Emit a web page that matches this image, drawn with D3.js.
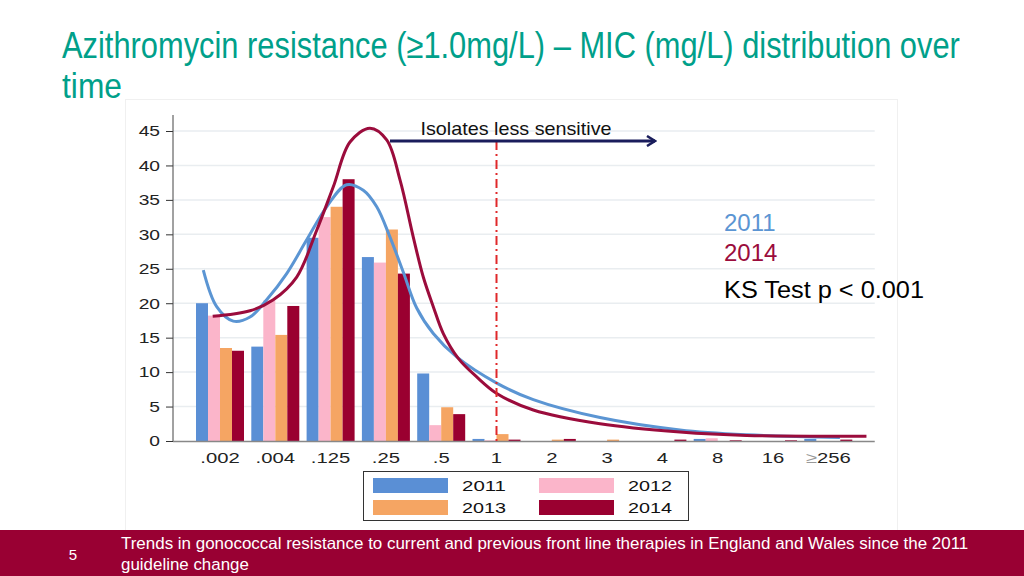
<!DOCTYPE html>
<html><head><meta charset="utf-8">
<script src="https://cdn.jsdelivr.net/npm/d3@7"></script>
<style>
html,body{margin:0;padding:0;background:#fff;}
svg{display:block;font-family:"Liberation Sans",Arial,sans-serif;}
</style></head>
<body><svg id="c" width="1024" height="576"></svg>
<script>
const categories = [".002",".004",".125",".25",".5","1","2","3","4","8","16","256"];
const years = ["2011","2012","2013","2014"];
const v2011 = [20.0,13.7,29.5,26.7,9.8,0.3,0,0,0,0.3,0,0.3];
const v2012 = [18.2,20.4,32.5,25.9,2.3,0.1,0,0,0,0.4,0,0];
const v2013 = [13.5,15.4,34.0,30.7,4.9,1.0,0.2,0.2,0,0,0,0];
const v2014 = [13.1,19.6,38.0,24.3,3.9,0.2,0.3,0,0.2,0.1,0.1,0.2];
const yTicks = [0,5,10,15,20,25,30,35,40,45];
// kernel density curves: [category position, value]
const curve2011 = [[-0.302,24.8],[-0.060,19.5],[0.240,17.4],[0.542,18.0],[0.844,20.5],[1.206,24.3],[1.568,29.2],[1.929,34.0],[2.291,37.2],[2.591,36.4],[2.834,34.0],[3.074,29.6],[3.315,24.5],[3.557,19.3],[3.857,15.6],[4.280,12.2],[5.004,8.4],[5.665,6.0],[6.872,3.4],[8.318,1.6],[9.524,0.9],[11.21,0.5]];
const curve2014 = [[-0.132,18.1],[0.542,18.9],[0.964,20.5],[1.387,23.8],[1.749,30.6],[2.049,36.9],[2.351,43.4],[2.712,45.4],[3.014,43.7],[3.255,37.9],[3.495,29.6],[3.676,23.8],[3.857,19.5],[4.038,15.6],[4.309,12.0],[4.642,9.3],[5.004,6.9],[5.665,4.5],[6.872,2.5],[8.318,1.3],[9.524,0.8],[11.69,0.7]];
const colors = ["#5a8fd5","#fbb5ca","#f5a563","#9a0030"];
const lineColors = {"2011":"#5b95d3","2014":"#9b0c3c"};

const svg = d3.select("#c");
const series = [v2011,v2012,v2013,v2014];
function stretch(sel,f){ sel.each(function(){ const w=this.getComputedTextLength(); d3.select(this).attr("textLength",w*f).attr("lengthAdjust","spacingAndGlyphs"); }); }
function fitText(parent,txt,x0,y0,width,size,color,family){
  const t = parent.append("text").attr("x",0).attr("y",0).attr("font-size",size).attr("fill",color).text(txt);
  if(family) t.attr("font-family",family);
  const w = t.node().getComputedTextLength();
  t.attr("transform",`translate(${x0},${y0}) scale(${width/w},1)`);
  return t;
}

// panel
svg.append("rect").attr("x",125.5).attr("y",99.5).attr("width",772).attr("height",440).attr("fill","#fff").attr("stroke","#f0f0f0");

// title
fitText(svg,"Azithromycin resistance (≥1.0mg/L) – MIC (mg/L) distribution over",62,58,898,36,"#00a08a");
fitText(svg,"time",62,98,60,36,"#00a08a");

const x = d3.scaleLinear().domain([0,11]).range([220,828.3]);
const y = d3.scaleLinear().domain([0,45]).range([441,131]);
const sub = d3.scaleBand().domain(years).range([-24,24]).padding(0);

// gridlines
svg.append("g").selectAll("line").data(yTicks.filter(d=>d>0)).join("line")
  .attr("x1",173).attr("x2",x(11.84)).attr("y1",d=>y(d)).attr("y2",d=>y(d))
  .attr("stroke","#e9edf0").attr("stroke-width",1.5);

// y axis
const ya = svg.append("g").attr("transform","translate(173,0)")
  .call(d3.axisLeft(y).tickValues(yTicks).tickSize(7).tickPadding(6));
ya.select(".domain").remove();
ya.selectAll(".tick line").attr("stroke","#333");
ya.selectAll(".tick text").attr("font-size",15).attr("fill","#222").attr("font-family","'Liberation Sans',Arial,sans-serif");
stretch(ya.selectAll(".tick text"),1.28);
svg.append("line").attr("x1",173).attr("x2",173).attr("y1",115).attr("y2",441).attr("stroke","#444").attr("stroke-width",1);

// bars
const g = svg.append("g");
series.forEach((vals,si)=>{
  g.append("g").selectAll("rect").data(vals).join("rect")
    .attr("x",(d,i)=>x(i)+sub(years[si]))
    .attr("width",sub.bandwidth())
    .attr("y",d=>y(d)).attr("height",d=>y(0)-y(d))
    .attr("fill",colors[si]);
});

// x axis baseline
svg.append("line").attr("x1",173).attr("x2",x(11.84)).attr("y1",441.5).attr("y2",441.5).attr("stroke","#888").attr("stroke-width",1.5);

// x labels
const xl = svg.append("g").selectAll("text").data(categories).join("text")
  .attr("x",(d,i)=>x(i)).attr("y",463).attr("text-anchor","middle")
  .attr("font-size",15).attr("fill","#222");
xl.each(function(d){
  const t = d3.select(this);
  if(d==="256"){ t.append("tspan").attr("fill","#999").text("≥"); t.append("tspan").text("256"); }
  else t.text(d);
});
stretch(xl,1.35);

// curves
const line = d3.line().x(d=>x(d[0])).y(d=>y(d[1])).curve(d3.curveCatmullRom.alpha(0.5));
svg.append("path").datum(curve2011).attr("d",line).attr("fill","none").attr("stroke",lineColors["2011"]).attr("stroke-width",3);
svg.append("path").datum(curve2014).attr("d",line).attr("fill","none").attr("stroke",lineColors["2014"]).attr("stroke-width",3);

// breakpoint line at 1 mg/L
svg.append("line").attr("x1",x(5)).attr("x2",x(5)).attr("y1",141).attr("y2",441)
  .attr("stroke","#e0282a").attr("stroke-width",2).attr("stroke-dasharray","9,4,2,4");

// arrow
svg.append("defs").append("marker").attr("id","arr").attr("viewBox","0 0 12 12").attr("refX",10).attr("refY",6)
  .attr("markerWidth",12).attr("markerHeight",12).attr("markerUnits","userSpaceOnUse").attr("orient","auto")
  .append("path").attr("d","M2,1 L10,6 L2,11").attr("fill","none").attr("stroke","#1a1d5c").attr("stroke-width",2.5);
svg.append("line").attr("x1",390).attr("x2",655).attr("y1",141).attr("y2",141)
  .attr("stroke","#1a1d5c").attr("stroke-width",3).attr("marker-end","url(#arr)");
svg.append("text").attr("x",516).attr("y",135).attr("text-anchor","middle").attr("font-size",18.5).attr("fill","#111")
  .attr("textLength",191).attr("lengthAdjust","spacingAndGlyphs").text("Isolates less sensitive");

// annotations
svg.append("text").attr("x",724).attr("y",231).attr("font-size",24).attr("fill","#5b95d3").text("2011");
svg.append("text").attr("x",724).attr("y",261).attr("font-size",24).attr("fill","#9b0c3c").text("2014");
svg.append("text").attr("x",724).attr("y",298).attr("font-size",24).attr("fill","#000")
  .attr("textLength",200).attr("lengthAdjust","spacingAndGlyphs").text("KS Test p < 0.001");

// legend
const lg = svg.append("g");
lg.append("rect").attr("x",363.5).attr("y",471.5).attr("width",325).attr("height",49).attr("fill","#fff").attr("stroke","#333");
const lpos = [[373,478],[539,478],[373,500],[539,500]];
years.forEach((yr,i)=>{
  lg.append("rect").attr("x",lpos[i][0]).attr("y",lpos[i][1]).attr("width",75).attr("height",15).attr("fill",colors[i]);
  lg.append("text").attr("x",lpos[i][0]+89).attr("y",lpos[i][1]+13).attr("font-size",15).attr("fill","#111")
    .attr("textLength",44).attr("lengthAdjust","spacingAndGlyphs").text(yr);
});

// footer
svg.append("rect").attr("x",0).attr("y",530).attr("width",1024).attr("height",46).attr("fill","#990033");
svg.append("text").attr("x",73).attr("y",560).attr("text-anchor","middle").attr("font-size",15).attr("fill","#fff").text("5");
fitText(svg,"Trends in gonococcal resistance to current and previous front line therapies in England and Wales since the 2011",121,549,848,16.5,"#fff");
fitText(svg,"guideline change",121,570,128,16.5,"#fff");
</script></body></html>
